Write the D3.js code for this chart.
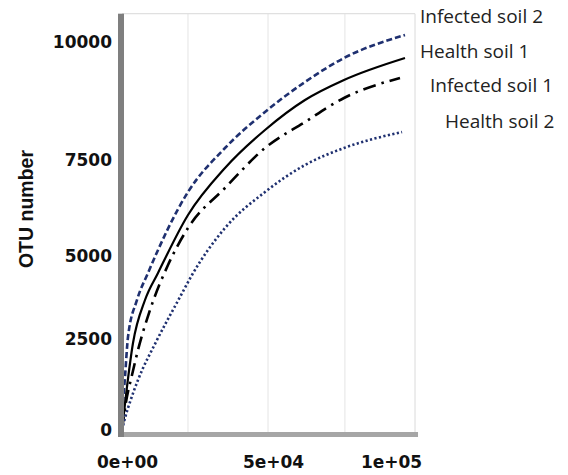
<!DOCTYPE html>
<html>
<head>
<meta charset="utf-8">
<script src="https://cdn.jsdelivr.net/npm/d3@7"></script>
<style>
  body { margin: 0; background: #fff; }
  svg { display: block; }
  .tickText { font-family: "DejaVu Sans", sans-serif; font-weight: bold; font-size: 17px; fill: #111; }
  .legendText { font-family: "Open Sans", sans-serif; font-size: 19px; fill: #222; }
  .yTitle { font-family: "Liberation Sans", sans-serif; font-weight: bold; font-size: 19.5px; fill: #111; }
</style>
</head>
<body>
<svg id="chart"></svg>
<script>
var svgWidth = 568;
var svgHeight = 475;

var infectedSoil2 = [[0,0],[342,687],[1027,1456],[2055,2560],[5137,3675],[8904,4488],[22603,6667],[35274,7754],[48973,8517],[65678,9153],[82203,9661],[108051,10148]];
var healthSoil1   = [[0,0],[1370,961],[3767,2390],[7877,3675],[12329,4488],[22603,6068],[35274,7292],[48973,8136],[65678,8771],[82203,9195],[108051,9661]];
var infectedSoil1 = [[0,0],[1370,769],[3425,1511],[5480,2198],[9589,3373],[15753,4729],[22603,5729],[35274,6771],[48973,7754],[65678,8305],[82203,8814],[105932,9238]];
var healthSoil2   = [[0,0],[1027,330],[2740,769],[5480,1374],[11986,2472],[19863,3765],[23973,4428],[35274,5729],[48973,6667],[65678,7370],[82203,7754],[106780,8093]];

var seriesNames = ['Infected soil 2', 'Health soil 1', 'Infected soil 1', 'Health soil 2'];

var yTicks = [0, 2500, 5000, 7500, 10000];
var xTicks = [0, 50000, 100000];
var xTickLabels = ['0e+00', '5e+04', '1e+05'];
var gridX = [22600, 50000, 82600];
var xMax = 112300;
var yMax = 10600;

// the original axes are not evenly spaced, so both scales are piecewise
var xScale = d3.scaleLinear()
  .domain([0, 50000, 100000])
  .range([122, 268, 386]);

var yScale = d3.scaleLinear()
  .domain([0, 2500, 5000, 7500, 10000])
  .range([430, 339, 256, 160, 42]);

var lineStyles = {
  'Infected soil 2': { data: infectedSoil2, color: '#1f3070', width: 2.6, dash: '6 3' },
  'Health soil 1':   { data: healthSoil1,   color: '#000',    width: 2.2, dash: null },
  'Infected soil 1': { data: infectedSoil1, color: '#000',    width: 2.6, dash: '13 6 2.5 6' },
  'Health soil 2':   { data: healthSoil2,   color: '#1f3070', width: 2.6, dash: '2.2 2.4' }
};

// legend text placement: [left x, baseline y]
var legendPos = {
  'Infected soil 2': [420, 23],
  'Health soil 1':   [420, 58],
  'Infected soil 1': [430, 92],
  'Health soil 2':   [445, 128]
};

var svg = d3.select('#chart').attr('width', svgWidth).attr('height', svgHeight);

svg.append('rect').attr('width', svgWidth).attr('height', svgHeight).attr('fill', '#fff');

var x0 = xScale(0), y0 = yScale(0);
var xRight = xScale(xMax), yTop = yScale(yMax);

// grid + frame
svg.append('g').selectAll('line')
  .data(gridX)
  .enter()
  .append('line')
  .attr('x1', d => xScale(d)).attr('x2', d => xScale(d))
  .attr('y1', yTop).attr('y2', y0 + 2)
  .attr('stroke', '#e4e4e4').attr('stroke-width', 1);

svg.append('line')
  .attr('x1', x0).attr('x2', xRight).attr('y1', yTop).attr('y2', yTop)
  .attr('stroke', '#e0e0e0').attr('stroke-width', 1.2);
svg.append('line')
  .attr('x1', xRight).attr('x2', xRight).attr('y1', yTop).attr('y2', y0 + 2)
  .attr('stroke', '#e0e0e0').attr('stroke-width', 1.2);

// curves
var line = d3.line()
  .x(d => xScale(d[0]))
  .y(d => yScale(d[1]))
  .curve(d3.curveMonotoneX);

svg.append('g').attr('id', 'curves')
  .selectAll('path')
  .data(seriesNames)
  .enter()
  .append('path')
  .attr('d', d => line(lineStyles[d].data))
  .attr('fill', 'none')
  .attr('stroke', d => lineStyles[d].color)
  .attr('stroke-width', d => lineStyles[d].width)
  .attr('stroke-dasharray', d => lineStyles[d].dash);

// thick axis bars
svg.append('rect')
  .attr('x', x0 - 4).attr('y', y0 + 2)
  .attr('width', xRight - x0 + 7).attr('height', 5)
  .attr('fill', '#a6a6a6');
svg.append('rect')
  .attr('x', x0 - 4).attr('y', yTop)
  .attr('width', 6).attr('height', y0 + 7 - yTop)
  .attr('fill', '#7f7f7f');

// y axis labels
svg.append('g')
  .attr('class', 'yAxis')
  .attr('transform', 'translate(' + x0 + ',0)')
  .call(d3.axisLeft(yScale).tickValues(yTicks).tickSize(0).tickPadding(10).tickFormat(d3.format('d')))
  .call(g => g.select('.domain').remove());

// x axis labels
svg.append('g')
  .attr('class', 'xAxis')
  .attr('transform', 'translate(0,' + (y0 + 7) + ')')
  .call(d3.axisBottom(xScale).tickValues(xTicks).tickSize(0).tickPadding(19).tickFormat((d, i) => xTickLabels[i]))
  .call(g => g.select('.domain').remove())
  .selectAll('text')
  .attr('dx', 5);

svg.selectAll('.xAxis, .yAxis').attr('font-family', null).attr('font-size', null);
svg.selectAll('.tick text').attr('class', 'tickText');

svg.append('text')
  .attr('class', 'yTitle')
  .attr('text-anchor', 'middle')
  .attr('transform', 'translate(33,209)rotate(-90)')
  .text('OTU number');

// series labels on the right
svg.append('g').selectAll('text')
  .data(seriesNames)
  .enter()
  .append('text')
  .attr('class', 'legendText')
  .attr('x', d => legendPos[d][0])
  .attr('y', d => legendPos[d][1])
  .text(d => d);
</script>
</body>
</html>
